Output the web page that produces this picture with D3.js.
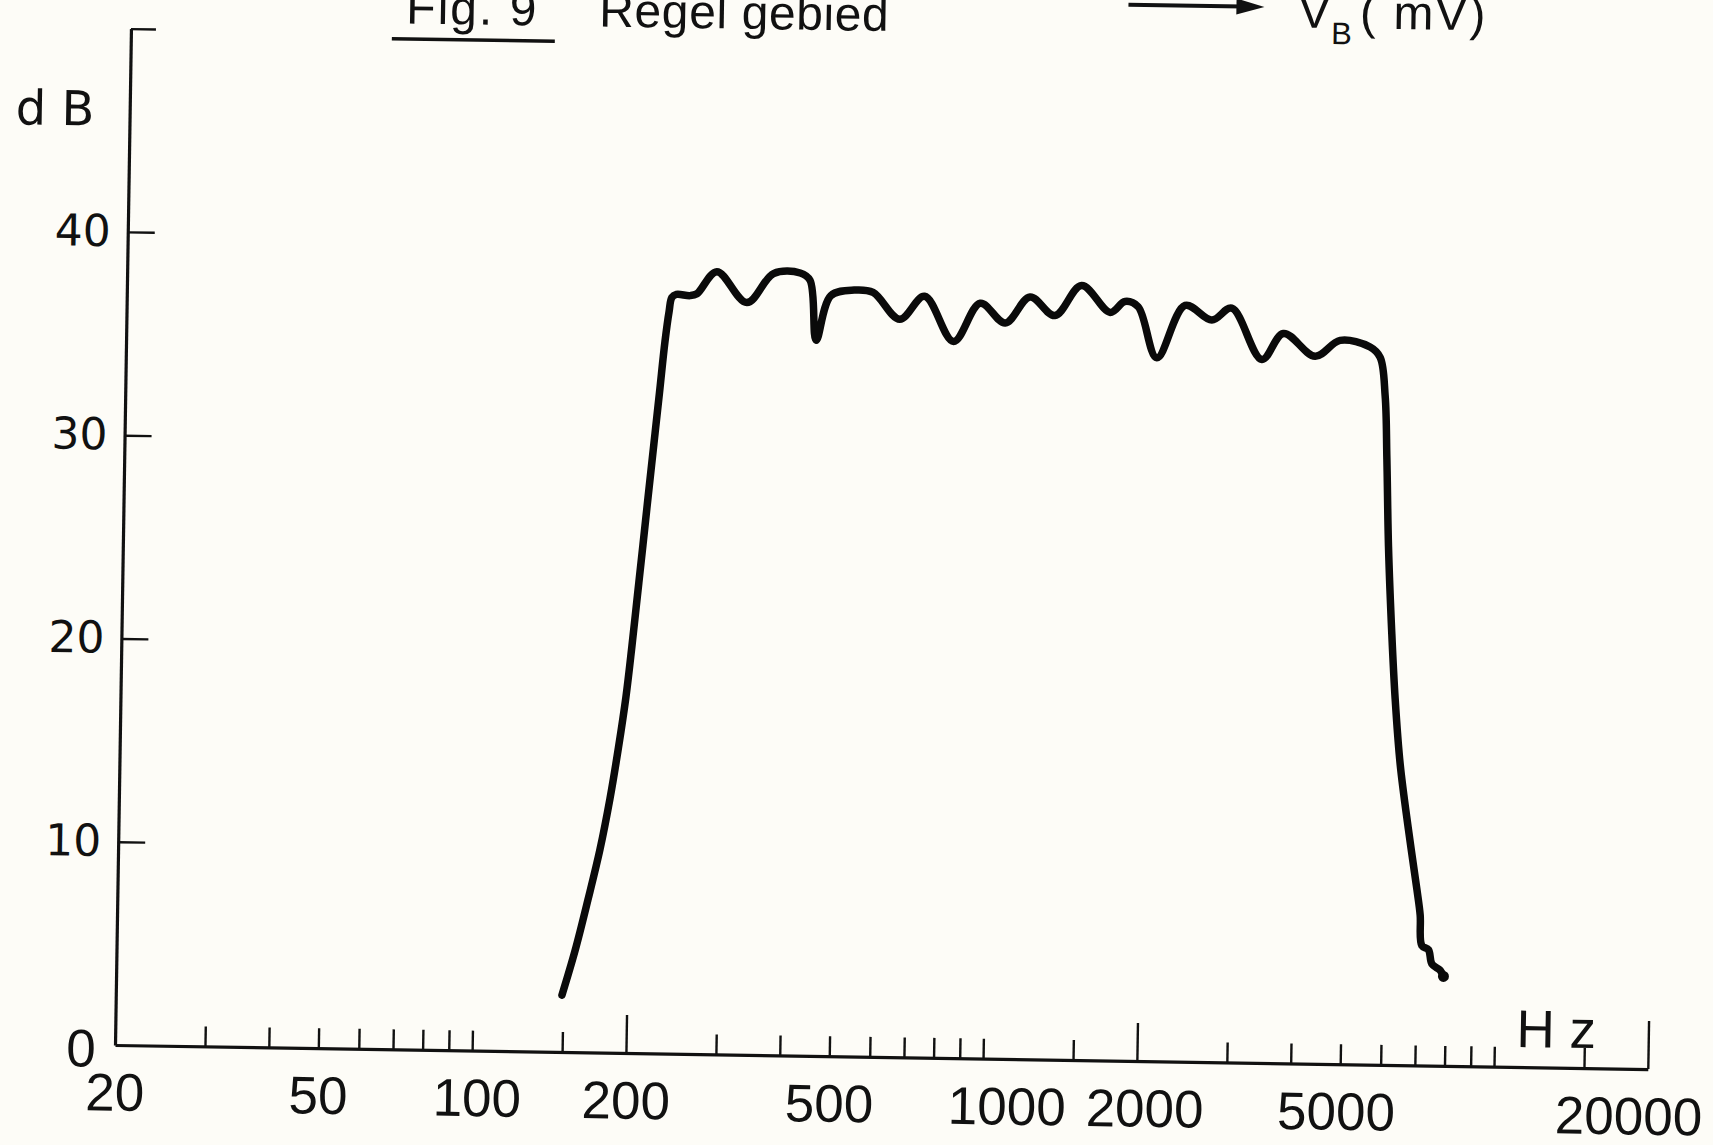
<!DOCTYPE html>
<html>
<head>
<meta charset="utf-8">
<script src="https://d3js.org/d3.v7.min.js"></script>
<style>
  html, body { margin: 0; padding: 0; background: #fdfcf7; }
  svg { display: block; }
</style>
</head>
<body>
<div id="chart"></div>
<script>
// Curve: frequency (Hz) and level (dB)
const freqHz = [149.3, 157.9, 166.7, 175.4, 182.8, 189.2, 195, 199.6, 203.9, 208.3, 212.7, 217.3, 222, 226.7, 230.5, 233.2, 238, 253,
  261, 285, 327, 368, 415, 434, 448, 477, 530, 577, 652, 728, 832, 936, 1049, 1171, 1311, 1476,
  1682, 1797, 1907, 2082, 2356, 2660, 2908, 3342, 3676, 4248, 4748, 5438, 5694, 5840, 5912,
  5992, 6120, 6242, 6414, 6688, 6978, 7094, 7162, 7383, 7504, 7791, 7912];
const levelDb = [2.8, 5.0, 7.5, 10, 12.5, 15, 17.5, 20, 22.5, 25, 27.5, 30, 32.5, 35, 36.5, 37.2, 37.35, 37.3,
  37.4, 38.5, 37.0, 38.45, 38.5, 38.15, 35.2, 37.4, 37.7, 37.6, 36.3, 37.45, 35.25, 37.15, 36.2, 37.5, 36.6, 38.1,
  36.8, 37.35, 37.1, 34.6, 37.2, 36.5, 37.1, 34.6, 35.9, 34.8, 35.6, 35.3, 34.8, 32.9, 29.8,
  25.5, 21.2, 18.0, 14.8, 11.6, 8.65, 7.4, 5.9, 5.7, 5.0, 4.7, 4.4];

// Axes
const xTickValues = [30, 40, 50, 60, 70, 80, 90, 100, 150, 200, 300, 400, 500, 600, 700, 800, 900, 1000, 1500,
  2000, 3000, 4000, 5000, 6000, 7000, 8000, 9000, 10000, 15000, 20000];
const xTickLabels = [20, 50, 100, 200, 500, 1000, 2000, 5000, 20000];
const yTickValues = [10, 20, 30, 40, 50];
const yTickLabels = [10, 20, 30, 40];

document.addEventListener("DOMContentLoaded", function() {
  const WIDTH = 1713, HEIGHT = 1145;
  const ORIGIN = {x: 115, y: 1045};
  const TILT = 0.9; // the scanned sheet is turned a little clockwise

  const svg = d3.select("#chart").append("svg")
    .attr("width", WIDTH)
    .attr("height", HEIGHT);

  svg.append("rect").attr("width", WIDTH).attr("height", HEIGHT).attr("fill", "#fdfcf7");

  const g = svg.append("g")
    .attr("transform", `rotate(${TILT},${ORIGIN.x},${ORIGIN.y})`);

  const x = d3.scaleLog().domain([20, 20000]).range([ORIGIN.x, ORIGIN.x + 3 * 511]);
  const y = d3.scaleLinear().domain([0, 50]).range([ORIGIN.y, ORIGIN.y - 50 * 20.33]);

  // x axis: ticks pointing up, longer at the decades
  const xAxis = g.append("g")
    .attr("transform", `translate(0,${ORIGIN.y})`)
    .call(d3.axisBottom(x).tickValues(xTickValues).tickSizeInner(-20).tickSizeOuter(0).tickFormat(""));
  xAxis.select(".domain").attr("stroke", "#111").attr("stroke-width", 3.2);
  xAxis.selectAll(".tick line")
    .attr("stroke", "#111").attr("stroke-width", 2.4)
    .attr("y2", d => d === 20000 ? -48 : (d === 200 || d === 2000) ? -38 : -20);

  const nudge = {100: 5, 1000: 24, 2000: 8, 5000: -4, 20000: -19};
  const xLab = g.append("g")
    .attr("transform", `translate(0,${ORIGIN.y})`)
    .call(d3.axisBottom(x).tickValues(xTickLabels).tickSize(0).tickPadding(28).tickFormat(d3.format("d")));
  xLab.select(".domain").remove();
  xLab.selectAll(".tick text")
    .attr("dx", d => nudge[d] || 0)
    .attr("fill", "#111")
    .style("font-family", "'Liberation Sans', Arial, sans-serif")
    .style("font-size", "53px");

  // y axis: ticks pointing right
  const yAxis = g.append("g")
    .attr("transform", `translate(${ORIGIN.x},0)`)
    .call(d3.axisLeft(y).tickValues(yTickValues).tickSizeInner(-27).tickSizeOuter(0).tickPadding(17)
      .tickFormat(d => yTickLabels.includes(d) ? d : ""));
  yAxis.select(".domain").attr("stroke", "#111").attr("stroke-width", 3.2);
  yAxis.selectAll(".tick line").attr("stroke", "#111").attr("stroke-width", 2.4)
    .attr("x2", d => d === 50 ? 25 : 27);
  yAxis.selectAll(".tick text")
    .attr("fill", "#111")
    .style("font-family", "'DejaVu Sans', sans-serif")
    .style("font-size", "44px");

  g.append("text")
    .attr("x", x(20) - 34).attr("y", y(0) + 8)
    .attr("text-anchor", "middle").attr("dominant-baseline", "middle")
    .attr("fill", "#111")
    .style("font-family", "'Liberation Sans', Arial, sans-serif").style("font-size", "53px")
    .text("0");

  // unit labels
  g.append("text")
    .attr("x", 1).attr("y", 126)
    .attr("fill", "#111")
    .style("font-family", "'DejaVu Sans', sans-serif").style("font-size", "48px")
    .text("d B");

  g.append("text")
    .attr("x", 1516).attr("y", 1025)
    .attr("fill", "#111")
    .style("font-family", "'Liberation Sans', Arial, sans-serif").style("font-size", "53px")
    .text("H z");

  // title line
  const title = g.append("g")
    .attr("fill", "#111")
    .style("font-family", "'Liberation Sans', Arial, sans-serif")
    .style("font-size", "48px");
  title.append("text").attr("x", 390).attr("y", 19).attr("letter-spacing", 2).text("Fig. 9");
  title.append("line").attr("x1", 376).attr("x2", 539).attr("y1", 34.5).attr("y2", 34.5)
    .attr("stroke", "#111").attr("stroke-width", 3.5);
  title.append("text").attr("x", 583).attr("y", 19).attr("letter-spacing", 0.6).text("Regel  gebied");

  title.append("line").attr("x1", 1112).attr("x2", 1226).attr("y1", -11).attr("y2", -11)
    .attr("stroke", "#111").attr("stroke-width", 4);
  title.append("path").attr("d", "M1220,-19 L1248,-11 L1220,-3 Z").attr("fill", "#111");

  const vb = title.append("text").attr("x", 1282).attr("y", 9);
  vb.append("tspan").text("V");
  vb.append("tspan").attr("dy", 16).attr("dx", 1).style("font-size", "31px").text("B");
  vb.append("tspan").attr("dy", -16).attr("dx", 8).attr("letter-spacing", 2).text("( mV)");

  // response curve
  const pts = freqHz.map((f, i) => [f, levelDb[i]]);
  const line = d3.line()
    .x(d => x(d[0]))
    .y(d => y(d[1]))
    .curve(d3.curveCatmullRom.alpha(0.5));

  g.append("path")
    .datum(pts)
    .attr("d", line)
    .attr("fill", "none")
    .attr("stroke", "#0a0a0a")
    .attr("stroke-width", 7.5)
    .attr("stroke-linecap", "round")
    .attr("stroke-linejoin", "round");

  const last = pts[pts.length - 1];
  g.append("circle")
    .attr("cx", x(last[0])).attr("cy", y(last[1]))
    .attr("r", 5.5).attr("fill", "#0a0a0a");
});
</script>
</body>
</html>
